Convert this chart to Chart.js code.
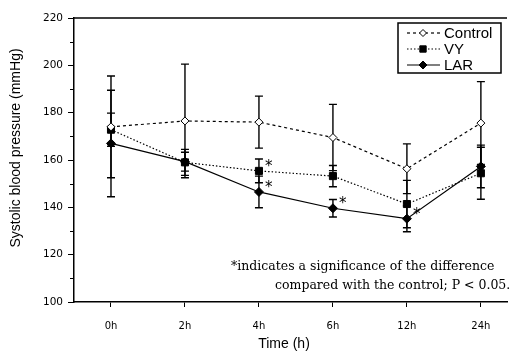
<!DOCTYPE html>
<html>
<head>
<meta charset="utf-8">
<script src="https://cdn.jsdelivr.net/npm/chart.js@4.4.0/dist/chart.umd.min.js"></script>
<style>
  body { margin: 0; background: #fff; overflow: hidden; }
</style>
</head>
<body>
<canvas id="bp" width="513" height="352"></canvas>
<script>
// time points and group means / SD
const timeLabels = ["0h", "2h", "4h", "6h", "12h", "24h"];
const controlMean = [174, 176.5, 176, 169.5, 156.3, 175.6];
const controlSD = [21.5, 24, 11, 14, 10.5, 17.5];
const vyMean = [172.8, 159, 155.4, 153.2, 141.4, 154.4];
const vySD = [7, 5.5, 5, 4.5, 10, 11];
const larMean = [167, 159.3, 146.5, 139.6, 135.2, 157.3];
const larSD = [22.5, 4, 6.7, 3.7, 5.5, 9];
// significant vs control (marked with *)
const vySig = [false, false, true, false, false, false];
const larSig = [false, false, true, true, true, false];
const yTitle = "Systolic blood pressure (mmHg)";
const xTitle = "Time (h)";
const noteLines = [
  "*indicates a significance of the difference",
  "compared with the control; P < 0.05."
];

function toPoints(arr) {
  return arr.map((v, i) => ({ x: i, y: v }));
}

const datasets = [
  {
    label: "Control",
    data: toPoints(controlMean),
    sd: controlSD,
    sig: null,
    borderColor: "#000",
    borderWidth: 1.2,
    borderDash: [3, 3],
    pointStyle: "rectRot",
    pointRadius: 4,
    pointBackgroundColor: "#fff",
    pointBorderColor: "#000",
    pointBorderWidth: 1,
  },
  {
    label: "VY",
    data: toPoints(vyMean),
    sd: vySD,
    sig: vySig,
    borderColor: "#000",
    borderWidth: 1.2,
    borderDash: [1.5, 2],
    pointStyle: "rect",
    pointRadius: 5,
    pointBackgroundColor: "#000",
    pointBorderColor: "#000",
    pointBorderWidth: 1,
  },
  {
    label: "LAR",
    data: toPoints(larMean),
    sd: larSD,
    sig: larSig,
    borderColor: "#000",
    borderWidth: 1.2,
    borderDash: [],
    pointStyle: "rectRot",
    pointRadius: 4.5,
    pointBackgroundColor: "#000",
    pointBorderColor: "#000",
    pointBorderWidth: 1,
  },
];

const extras = {
  id: "extras",
  beforeDatasetsDraw(chart) {
    const ctx = chart.ctx;
    const xs = chart.scales.x, ys = chart.scales.y;
    ctx.save();
    ctx.strokeStyle = "#000";
    ctx.lineWidth = 1.4;
    chart.data.datasets.forEach((ds) => {
      ds.data.forEach((p, i) => {
        const x = xs.getPixelForValue(p.x);
        const yt = ys.getPixelForValue(p.y + ds.sd[i]);
        const yb = ys.getPixelForValue(p.y - ds.sd[i]);
        ctx.beginPath();
        ctx.moveTo(x, yt); ctx.lineTo(x, yb);
        ctx.moveTo(x - 4, yt); ctx.lineTo(x + 4, yt);
        ctx.moveTo(x - 4, yb); ctx.lineTo(x + 4, yb);
        ctx.stroke();
      });
    });
    ctx.restore();
  },
  afterDatasetsDraw(chart) {
    const ctx = chart.ctx;
    const xs = chart.scales.x, ys = chart.scales.y;
    const area = chart.chartArea;
    ctx.save();
    // top frame line
    ctx.strokeStyle = "#000";
    ctx.lineWidth = 1.5;
    ctx.beginPath();
    ctx.moveTo(area.left, area.top);
    ctx.lineTo(area.right, area.top);
    ctx.stroke();
    // minor y ticks
    ctx.lineWidth = 1;
    for (let v = 110; v < 220; v += 20) {
      const y = Math.round(ys.getPixelForValue(v)) + 0.5;
      ctx.beginPath();
      ctx.moveTo(area.left - 4, y);
      ctx.lineTo(area.left, y);
      ctx.stroke();
    }
    // axis titles
    ctx.fillStyle = "#000";
    ctx.font = "14px 'Liberation Sans'";
    ctx.textAlign = "center";
    ctx.textBaseline = "middle";
    ctx.fillText(xTitle, 284, 344);
    ctx.save();
    ctx.translate(16, 148);
    ctx.rotate(-Math.PI / 2);
    ctx.fillText(yTitle, 0, 0);
    ctx.restore();
    // significance stars
    ctx.font = "15px 'DejaVu Sans'";
    ctx.textAlign = "left";
    chart.data.datasets.forEach((ds) => {
      if (!ds.sig) return;
      ds.data.forEach((p, i) => {
        if (!ds.sig[i]) return;
        ctx.fillText("*", xs.getPixelForValue(p.x) + 6, ys.getPixelForValue(p.y) - 4);
      });
    });
    // note text
    ctx.font = "12.5px 'DejaVu Serif'";
    ctx.fillText(noteLines[0], 231, 267);
    ctx.fillText(noteLines[1], 275, 286);
    // legend
    const bx = 398, by = 23, bw = 103, bh = 50;
    ctx.fillStyle = "#fff";
    ctx.fillRect(bx, by, bw, bh);
    ctx.strokeStyle = "#000";
    ctx.lineWidth = 1.5;
    ctx.strokeRect(bx, by, bw, bh);
    ctx.font = "15px 'Liberation Sans'";
    chart.data.datasets.forEach((ds, k) => {
      const y = by + 10 + k * 16;
      ctx.save();
      ctx.strokeStyle = "#000";
      ctx.lineWidth = ds.borderWidth;
      ctx.setLineDash(ds.borderDash);
      ctx.beginPath();
      ctx.moveTo(407, y);
      ctx.lineTo(440, y);
      ctx.stroke();
      ctx.restore();
      ctx.save();
      ctx.fillStyle = ds.pointBackgroundColor;
      ctx.strokeStyle = "#000";
      ctx.lineWidth = 1;
      Chart.helpers.drawPoint(ctx, {
        pointStyle: ds.pointStyle,
        radius: ds.pointRadius - 0.5,
        borderWidth: 1,
        rotation: 0,
      }, 423, y);
      ctx.restore();
      ctx.fillStyle = "#000";
      ctx.fillText(ds.label, 444, y + 1);
    });
    ctx.restore();
  },
};

new Chart(document.getElementById("bp"), {
  type: "line",
  data: { datasets: datasets },
  plugins: [extras],
  options: {
    responsive: false,
    animation: false,
    devicePixelRatio: 1,
    layout: { padding: { top: 18, right: 0, left: 0, bottom: 0 } },
    plugins: { legend: { display: false }, tooltip: { enabled: false } },
    scales: {
      x: {
        type: "linear",
        min: -0.5,
        max: 5.353,
        afterBuildTicks: (s) => { s.ticks = timeLabels.map((l, i) => ({ value: i })); },
        afterFit: (s) => { s.height = 50; },
        ticks: {
          callback: (v) => timeLabels[v],
          color: "#000",
          font: { family: "DejaVu Sans", size: 10 },
          padding: 13,
          maxRotation: 0,
        },
        grid: { drawOnChartArea: false, tickLength: 5, color: "#000" },
        border: { color: "#000", width: 1.5 },
        title: { display: false },
      },
      y: {
        min: 100,
        max: 220,
        afterFit: (s) => { s.width = 74; },
        ticks: {
          stepSize: 20,
          color: "#000",
          font: { family: "DejaVu Sans", size: 10.5 },
          padding: 5,
        },
        grid: { drawOnChartArea: false, tickLength: 6, color: "#000" },
        border: { color: "#000", width: 1.5 },
        title: { display: false },
      },
    },
  },
});
</script>
</body>
</html>
